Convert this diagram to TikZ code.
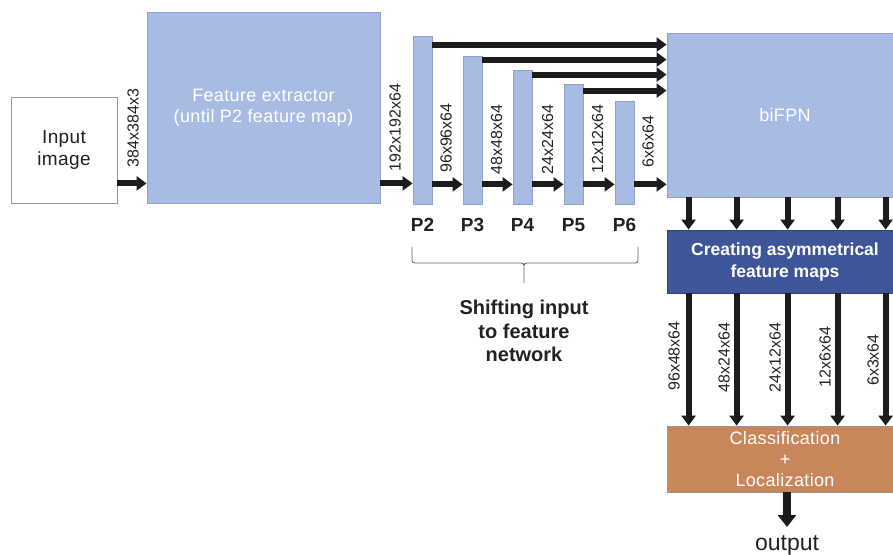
\documentclass[tikz,border=0pt]{standalone}
\usepackage{fontspec}
\setmainfont{Liberation Sans}
\usetikzlibrary{arrows.meta}
\definecolor{lblue}{HTML}{A7BBE3}
\definecolor{lblueb}{HTML}{8EA2CE}
\definecolor{dblue}{HTML}{3F5599}
\definecolor{dblueb}{HTML}{2F4479}
\definecolor{orng}{HTML}{C8865A}
\definecolor{arrc}{HTML}{1C1C1C}
\definecolor{txt}{HTML}{222222}
\tikzset{
  box/.style={draw=#1, line width=0.8pt, inner sep=0pt, anchor=center},
  lbox/.style={box=lblueb, fill=lblue},
  wtext/.style={text=white, font=\fontsize{18}{21}\selectfont\addfontfeature{LetterSpace=2}, align=center},
  arr/.style={draw=arrc, line width=6pt, -{Triangle[width=14pt,length=10pt]}},
  bigarr/.style={draw=arrc, line width=8pt, -{Triangle[width=18pt,length=12pt]}},
  dim/.style={text=txt, rotate=90, font=\fontsize{16}{19}\selectfont, inner sep=0pt},
  plbl/.style={text=txt, font=\fontsize{19}{22}\selectfont\bfseries, inner sep=0pt},
}
\begin{document}
\begin{tikzpicture}[x=1pt,y=-1pt]
\useasboundingbox (0,0) rectangle (893,554);
\clip (0,0) rectangle (893,554);
% boxes
\node[box=gray!80, fill=white, minimum width=106pt, minimum height=106pt, text=txt, font=\fontsize{19}{21.5}\selectfont\addfontfeature{LetterSpace=2}, align=center] (inp) at (64,150) {Input\\image};
\node[lbox, minimum width=233pt, minimum height=191pt, wtext] (fe) at (263.5,107.5) {Feature extractor\\(until P2 feature map)};
\node[lbox, minimum width=19pt, minimum height=168pt] (P2) at (422.5,120) {};
\node[lbox, minimum width=19pt, minimum height=148pt] (P3) at (472.5,130) {};
\node[lbox, minimum width=19pt, minimum height=134pt] (P4) at (522.5,137) {};
\node[lbox, minimum width=19pt, minimum height=120pt] (P5) at (573.5,144) {};
\node[lbox, minimum width=19pt, minimum height=103pt] (P6) at (624.5,152.5) {};
\node[lbox, minimum width=236pt, minimum height=164pt, wtext] (bifpn) at (785,115) {biFPN};
\node[box=dblueb, fill=dblue, minimum width=236pt, minimum height=63pt, text=white, font=\fontsize{17.5}{22}\selectfont\bfseries, align=center] (cre) at (785,261.5) {Creating asymmetrical\\feature maps};
\node[box=gray!80, fill=orng, minimum width=236pt, minimum height=66pt, wtext] (cls) at (785,459) {Classification\\+\\Localization};
\node[text=txt, font=\fontsize{23}{26}\selectfont, inner sep=0pt, anchor=north] (out) at (787,535) {output};
% P labels
\node[plbl] (lP2) at (422.5,225) {P2};
\node[plbl] (lP3) at (472.5,225) {P3};
\node[plbl] (lP4) at (522.5,225) {P4};
\node[plbl] (lP5) at (573.5,225) {P5};
\node[plbl] (lP6) at (624.5,225) {P6};
% dimension labels
\node[dim] (d1) at (133,128) {384x384x3};
\node[dim] (d2) at (395,127.5) {192x192x64};
\node[dim] (d3) at (446,138) {96x96x64};
\node[dim] (d4) at (496.5,139.5) {48x48x64};
\node[dim] (d5) at (547.5,139.5) {24x24x64};
\node[dim] (d6) at (597.5,139) {12x12x64};
\node[dim] (d7) at (648,141.5) {6x6x64};
\node[dim] (v1) at (674,356) {96x48x64};
\node[dim] (v2) at (724,357.5) {48x24x64};
\node[dim] (v3) at (775,357.5) {24x12x64};
\node[dim] (v4) at (825,357) {12x6x64};
\node[dim] (v5) at (873,360) {6x3x64};
% horizontal arrows
\draw[arr] ([yshift=20pt]inp.south east) -- ([yshift=20pt]fe.south west);
\draw[arr] ([yshift=20pt]fe.south east) -- ([yshift=21pt]P2.south west);
\draw[arr] ([yshift=20pt]P2.south east) -- ([yshift=20pt]P3.south west);
\draw[arr] ([yshift=20pt]P3.south east) -- ([yshift=20pt]P4.south west);
\draw[arr] ([yshift=20pt]P4.south east) -- ([yshift=20pt]P5.south west);
\draw[arr] ([yshift=20pt]P5.south east) -- ([yshift=20pt]P6.south west);
\draw[arr] ([yshift=20pt]P6.south east) -- ([yshift=13pt]bifpn.south west);
% top arrows
\draw[arr] ([yshift=-9pt]P2.north east) -- ([yshift=-12pt]bifpn.north west);
\draw[arr] ([yshift=-4pt]P3.north east) -- ([yshift=-27pt]bifpn.north west);
\draw[arr] ([yshift=-5pt]P4.north east) -- ([yshift=-42pt]bifpn.north west);
\draw[arr] ([yshift=-7pt]P5.north east) -- ([yshift=-58pt]bifpn.north west);
% vertical arrows
\foreach \dx in {22,70,121,171,219}{
  \draw[arr] ([xshift=\dx pt]bifpn.south west) -- ([xshift=\dx pt]cre.north west);
  \draw[arr] ([xshift=\dx pt]cre.south west) -- ([xshift=\dx pt]cls.north west);
}
\draw[bigarr] ([xshift=2pt]cls.south) -- ([yshift=8pt]out.north);
% brace
\draw[gray!75!black, line width=0.8pt] (412,247) -- (412,257) .. controls (412,263) .. (418,263) -- (518,263) .. controls (524,263) .. (524,269) -- (524,283)
  (524,269) .. controls (524,263) .. (530,263) -- (632,263) .. controls (638,263) .. (638,257) -- (638,247);
\node[text=txt, font=\fontsize{20}{23.5}\selectfont\bfseries, align=center] (shift) at (524,331) {Shifting input\\to feature\\network};
\end{tikzpicture}
\end{document}
